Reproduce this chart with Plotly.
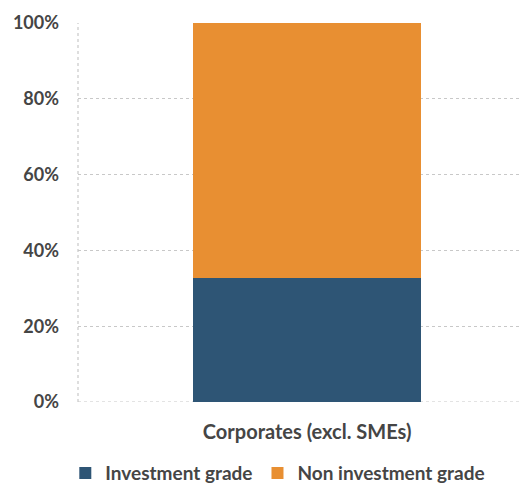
import plotly.graph_objects as go

categories = ["Corporates (excl. SMEs)"]
investment_grade = [0.328]
non_investment_grade = [0.672]
series_names = ["Investment grade", "Non investment grade"]
colors = ["#2E5575", "#E88F32"]
tick_vals = [0, 0.2, 0.4, 0.6, 0.8, 1.0]
tick_text = ["0%", "20%", "40%", "60%", "80%", "100%"]

fig = go.Figure()
for name, vals, c in zip(series_names, [investment_grade, non_investment_grade], colors):
    fig.add_trace(go.Bar(x=[0], y=vals, name=name, marker=dict(color=c, line=dict(width=0)),
                         width=0.5135))

fig.update_layout(
    barmode="stack",
    width=522, height=495,
    margin=dict(l=78, r=0, t=23, b=93),
    plot_bgcolor="white", paper_bgcolor="white",
    font=dict(family="Lato", color="#454545"),
    showlegend=True,
    legend=dict(orientation="h", xref="paper", yref="container", x=0.45, xanchor="center",
                y=0.006, yanchor="bottom",
                font=dict(size=19, color="#454545", weight="bold"), itemwidth=30,
                traceorder="normal", tracegroupgap=0),
    xaxis=dict(range=[-0.516, 0.484], tickvals=[0], ticktext=categories,
               tickfont=dict(size=20, color="#454545", weight="bold"), showgrid=False,
               zeroline=False, showline=False, ticks="", ticklabelstandoff=16),
    yaxis=dict(range=[0, 1.0], tickvals=tick_vals, ticktext=tick_text,
               tickfont=dict(size=18, color="#454545", weight="bold"), showgrid=True,
               gridcolor="#C8C8C8", griddash="dot", gridwidth=1.2, zeroline=False,
               showline=False, ticks="", ticklabelstandoff=18),
    shapes=[dict(type="line", xref="paper", yref="paper", x0=0, x1=0, y0=0, y1=1,
                 line=dict(color="#C8C8C8", width=1.2, dash="dot"), layer="below"),
            dict(type="line", xref="paper", yref="y", x0=0, x1=1, y0=0, y1=0,
                 line=dict(color="#C8C8C8", width=1.2, dash="dot"), layer="below")],
)

fig.write_html("out.html", config={"displayModeBar": False},
               post_script="document.body.style.margin='0';")
